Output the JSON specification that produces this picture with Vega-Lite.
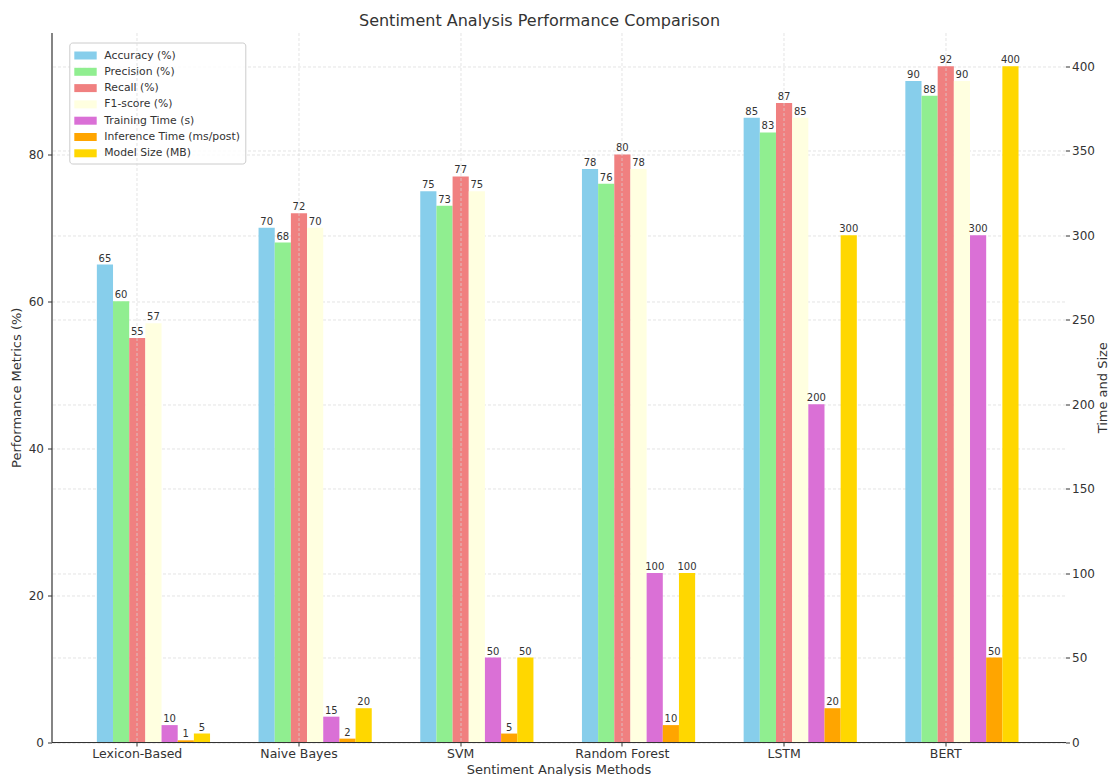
{
  "$schema": "https://vega.github.io/schema/vega-lite/v6.json",
  "width": 1014,
  "height": 709.5,
  "autosize": {"type": "none"},
  "padding": {"left": 51.5, "top": 32.5, "right": 43.5, "bottom": 34},
  "background": "white",
  "title": {
    "text": "Sentiment Analysis Performance Comparison",
    "fontSize": 16,
    "font": "DejaVu Sans",
    "fontWeight": "normal",
    "color": "#333333",
    "anchor": "middle",
    "frame": "group",
    "dx": -19,
    "dy": 16,
    "offset": 7,
    "baseline": "alphabetic"
  },
  "datasets": {
    "perf": [
      {"method": "Lexicon-Based", "metric": "Accuracy (%)", "value": 65},
      {"method": "Lexicon-Based", "metric": "Precision (%)", "value": 60},
      {"method": "Lexicon-Based", "metric": "Recall (%)", "value": 55},
      {"method": "Lexicon-Based", "metric": "F1-score (%)", "value": 57},
      {"method": "Naive Bayes", "metric": "Accuracy (%)", "value": 70},
      {"method": "Naive Bayes", "metric": "Precision (%)", "value": 68},
      {"method": "Naive Bayes", "metric": "Recall (%)", "value": 72},
      {"method": "Naive Bayes", "metric": "F1-score (%)", "value": 70},
      {"method": "SVM", "metric": "Accuracy (%)", "value": 75},
      {"method": "SVM", "metric": "Precision (%)", "value": 73},
      {"method": "SVM", "metric": "Recall (%)", "value": 77},
      {"method": "SVM", "metric": "F1-score (%)", "value": 75},
      {"method": "Random Forest", "metric": "Accuracy (%)", "value": 78},
      {"method": "Random Forest", "metric": "Precision (%)", "value": 76},
      {"method": "Random Forest", "metric": "Recall (%)", "value": 80},
      {"method": "Random Forest", "metric": "F1-score (%)", "value": 78},
      {"method": "LSTM", "metric": "Accuracy (%)", "value": 85},
      {"method": "LSTM", "metric": "Precision (%)", "value": 83},
      {"method": "LSTM", "metric": "Recall (%)", "value": 87},
      {"method": "LSTM", "metric": "F1-score (%)", "value": 85},
      {"method": "BERT", "metric": "Accuracy (%)", "value": 90},
      {"method": "BERT", "metric": "Precision (%)", "value": 88},
      {"method": "BERT", "metric": "Recall (%)", "value": 92},
      {"method": "BERT", "metric": "F1-score (%)", "value": 90}
    ],
    "cost": [
      {"method": "Lexicon-Based", "metric": "Training Time (s)", "value": 10},
      {"method": "Lexicon-Based", "metric": "Inference Time (ms/post)", "value": 1},
      {"method": "Lexicon-Based", "metric": "Model Size (MB)", "value": 5},
      {"method": "Naive Bayes", "metric": "Training Time (s)", "value": 15},
      {"method": "Naive Bayes", "metric": "Inference Time (ms/post)", "value": 2},
      {"method": "Naive Bayes", "metric": "Model Size (MB)", "value": 20},
      {"method": "SVM", "metric": "Training Time (s)", "value": 50},
      {"method": "SVM", "metric": "Inference Time (ms/post)", "value": 5},
      {"method": "SVM", "metric": "Model Size (MB)", "value": 50},
      {"method": "Random Forest", "metric": "Training Time (s)", "value": 100},
      {"method": "Random Forest", "metric": "Inference Time (ms/post)", "value": 10},
      {"method": "Random Forest", "metric": "Model Size (MB)", "value": 100},
      {"method": "LSTM", "metric": "Training Time (s)", "value": 200},
      {"method": "LSTM", "metric": "Inference Time (ms/post)", "value": 20},
      {"method": "LSTM", "metric": "Model Size (MB)", "value": 300},
      {"method": "BERT", "metric": "Training Time (s)", "value": 300},
      {"method": "BERT", "metric": "Inference Time (ms/post)", "value": 50},
      {"method": "BERT", "metric": "Model Size (MB)", "value": 400}
    ]
  },
  "config": {
    "view": {"stroke": null},
    "font": "DejaVu Sans",
    "axis": {
      "gridColor": "#d9d9d9",
      "gridDash": [3, 2],
      "gridWidth": 0.7,
      "domainColor": "#333333",
      "domainWidth": 1.2,
      "tickColor": "#333333",
      "tickSize": 4,
      "labelColor": "#333333",
      "labelFont": "DejaVu Sans",
      "labelFontSize": 12,
      "titleColor": "#333333",
      "titleFont": "DejaVu Sans",
      "titleFontSize": 13,
      "titleFontWeight": "normal"
    },
    "legend": {
      "orient": "none",
      "legendX": 17.8,
      "legendY": 10,
      "labelFontSize": 10.8,
      "labelColor": "#333333",
      "labelFont": "DejaVu Sans",
      "symbolType": "M-1,-0.5L1.8,-0.5L1.8,0.5L-1,0.5Z",
      "symbolSize": 256,
      "symbolStrokeWidth": 0,
      "symbolOpacity": 1,
      "strokeColor": "#cccccc",
      "fillColor": "rgba(255,255,255,0.85)",
      "padding": 5,
      "cornerRadius": 3,
      "rowPadding": 3.3,
      "labelOffset": 14
    }
  },
  "layer": [
    {
      "data": {"name": "perf"},
      "encoding": {
        "x": {
          "field": "method",
          "type": "nominal",
          "sort": ["Lexicon-Based", "Naive Bayes", "SVM", "Random Forest", "LSTM", "BERT"],
          "scale": {"paddingInner": 0.1, "paddingOuter": 0.1855, "align": 0.217},
          "axis": {"title": "Sentiment Analysis Methods", "labelAngle": 0, "grid": true, "zindex": 1, "labelPadding": 1, "titlePadding": 4, "labelFontSize": 12.5}
        },
        "xOffset": {
          "field": "metric",
          "type": "nominal",
          "scale": {"domain": ["_a", "_b", "Accuracy (%)", "Precision (%)", "Recall (%)", "F1-score (%)", "Training Time (s)", "Inference Time (ms/post)", "Model Size (MB)"], "paddingInner": 0, "paddingOuter": 0}
        },
        "y": {
          "field": "value",
          "type": "quantitative",
          "scale": {"domain": [0, 96.6], "nice": false},
          "axis": {"title": "Performance Metrics (%)", "orient": "left", "values": [0, 20, 40, 60, 80], "grid": true, "labelPadding": 4, "titlePadding": 5}
        }
      },
      "layer": [
        {
          "mark": {"type": "bar"},
          "encoding": {
            "color": {
              "field": "metric",
              "type": "nominal",
              "scale": {
                "domain": ["Accuracy (%)", "Precision (%)", "Recall (%)", "F1-score (%)", "Training Time (s)", "Inference Time (ms/post)", "Model Size (MB)"],
                "range": ["#87CEEB", "#90EE90", "#F08080", "#FFFFE0", "#DA70D6", "#FFA500", "#FFD700"]
              },
              "legend": {"title": null}
            }
          }
        },
        {
          "mark": {"type": "text", "align": "center", "baseline": "alphabetic", "dy": -3, "fontSize": 10, "color": "#333333"},
          "encoding": {"text": {"field": "value", "type": "quantitative", "format": "d"}}
        }
      ]
    },
    {
      "data": {"name": "cost"},
      "encoding": {
        "x": {
          "field": "method",
          "type": "nominal",
          "sort": ["Lexicon-Based", "Naive Bayes", "SVM", "Random Forest", "LSTM", "BERT"],
          "scale": {"paddingInner": 0.1, "paddingOuter": 0.1855, "align": 0.217},
          "axis": {"title": "Sentiment Analysis Methods", "labelAngle": 0, "grid": true, "zindex": 1, "labelPadding": 1, "titlePadding": 4, "labelFontSize": 12.5}
        },
        "xOffset": {
          "field": "metric",
          "type": "nominal",
          "scale": {"domain": ["_a", "_b", "Accuracy (%)", "Precision (%)", "Recall (%)", "F1-score (%)", "Training Time (s)", "Inference Time (ms/post)", "Model Size (MB)"], "paddingInner": 0, "paddingOuter": 0}
        },
        "y": {
          "field": "value",
          "type": "quantitative",
          "scale": {"domain": [0, 420], "nice": false},
          "axis": {"title": "Time and Size", "orient": "right", "values": [0, 50, 100, 150, 200, 250, 300, 350, 400], "grid": true, "domain": false, "labelPadding": 2, "titlePadding": 2, "titleAngle": 270, "titleBaseline": "top"}
        }
      },
      "layer": [
        {
          "mark": {"type": "bar"},
          "encoding": {
            "color": {
              "field": "metric",
              "type": "nominal",
              "scale": {
                "domain": ["Accuracy (%)", "Precision (%)", "Recall (%)", "F1-score (%)", "Training Time (s)", "Inference Time (ms/post)", "Model Size (MB)"],
                "range": ["#87CEEB", "#90EE90", "#F08080", "#FFFFE0", "#DA70D6", "#FFA500", "#FFD700"]
              },
              "legend": {"title": null}
            }
          }
        },
        {
          "mark": {"type": "text", "align": "center", "baseline": "alphabetic", "dy": -3, "fontSize": 10, "color": "#333333"},
          "encoding": {"text": {"field": "value", "type": "quantitative", "format": "d"}}
        }
      ]
    }
  ],
  "resolve": {"scale": {"y": "independent"}, "axis": {"y": "independent"}}
}
